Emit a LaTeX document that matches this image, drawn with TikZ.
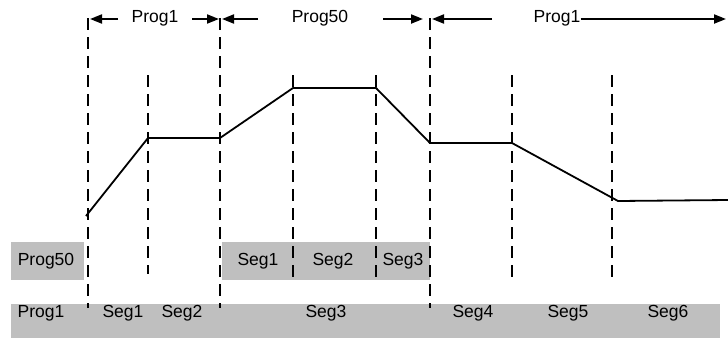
\documentclass[tikz,border=0pt]{standalone}
\usepackage{fontspec}
\setmainfont{Liberation Sans}
\usetikzlibrary{arrows.meta}
\begin{document}
\begin{tikzpicture}[x=1pt,y=-1pt,
  lbl/.style={font=\fontsize{17.5}{20}\selectfont, inner sep=0pt, anchor=center},
  grey/.style={fill=black!25, draw=none},
  vdash/.style={draw=black, line width=1.8pt, dash pattern=on 12pt off 7pt},
  profile/.style={draw=black, line width=1.8pt, line join=miter},
  arr/.style={draw=black, line width=2pt, -{Triangle[length=12pt,width=9pt]}}]
\useasboundingbox (0,0) rectangle (728,338);
% grey bars
\fill[grey] (11,242) rectangle (84,280);
\fill[grey] (222,242) rectangle (430,280);
\fill[grey] (11,304) rectangle (720,338);
% dashed verticals
\foreach \x/\a/\b in {88/18/308, 220/18/308, 430/18/308, 148/75/274, 293/75/277, 376/75/277, 512/75/277, 612/75/279}
  \draw[vdash] (\x,\a) -- (\x,\b);
% profile
\coordinate (q0) at (86,216);
\coordinate (q1) at (148,138);
\coordinate (q2) at (220,138);
\coordinate (q3) at (293,88);
\coordinate (q4) at (376,88);
\coordinate (q5) at (430,143);
\coordinate (q6) at (512,143);
\coordinate (q7) at (618,201);
\coordinate (q8) at (728,200);
\draw[profile] (q0) -- (q1) -- (q2) -- (q3) -- (q4) -- (q5) -- (q6) -- (q7) -- (q8);
% top labels and arrows
\node[lbl] (t1) at (155,18) {Prog1};
\node[lbl] (t2) at (320,18) {Prog50};
\node[lbl] (t3) at (557,18) {Prog1};
\coordinate (a1s) at (118,19); \coordinate (a1e) at (90,19);
\coordinate (a2s) at (192,19); \coordinate (a2e) at (219,19);
\coordinate (a3s) at (258,19); \coordinate (a3e) at (222,19);
\coordinate (a4s) at (383,19); \coordinate (a4e) at (423,19);
\coordinate (a5s) at (492,19); \coordinate (a5e) at (432,19);
\coordinate (a6e) at (726,19);
\draw[arr] (a1s) -- (a1e);
\draw[arr] (a2s) -- (a2e);
\draw[arr] (a3s) -- (a3e);
\draw[arr] (a4s) -- (a4e);
\draw[arr] (a5s) -- (a5e);
\draw[arr] (t3.east |- a6e) -- (a6e);
% row 2 labels
\node[lbl] (r2a) at (46,261) {Prog50};
\node[lbl] (r2b) at (258,261) {Seg1};
\node[lbl] (r2c) at (333,261) {Seg2};
\node[lbl] (r2d) at (403,261) {Seg3};
% row 3 labels
\node[lbl] (r3a) at (41,313) {Prog1};
\node[lbl] (r3b) at (123,313) {Seg1};
\node[lbl] (r3c) at (182,313) {Seg2};
\node[lbl] (r3d) at (326,313) {Seg3};
\node[lbl] (r3e) at (473,313) {Seg4};
\node[lbl] (r3f) at (568,313) {Seg5};
\node[lbl] (r3g) at (668,313) {Seg6};
\end{tikzpicture}
\end{document}
